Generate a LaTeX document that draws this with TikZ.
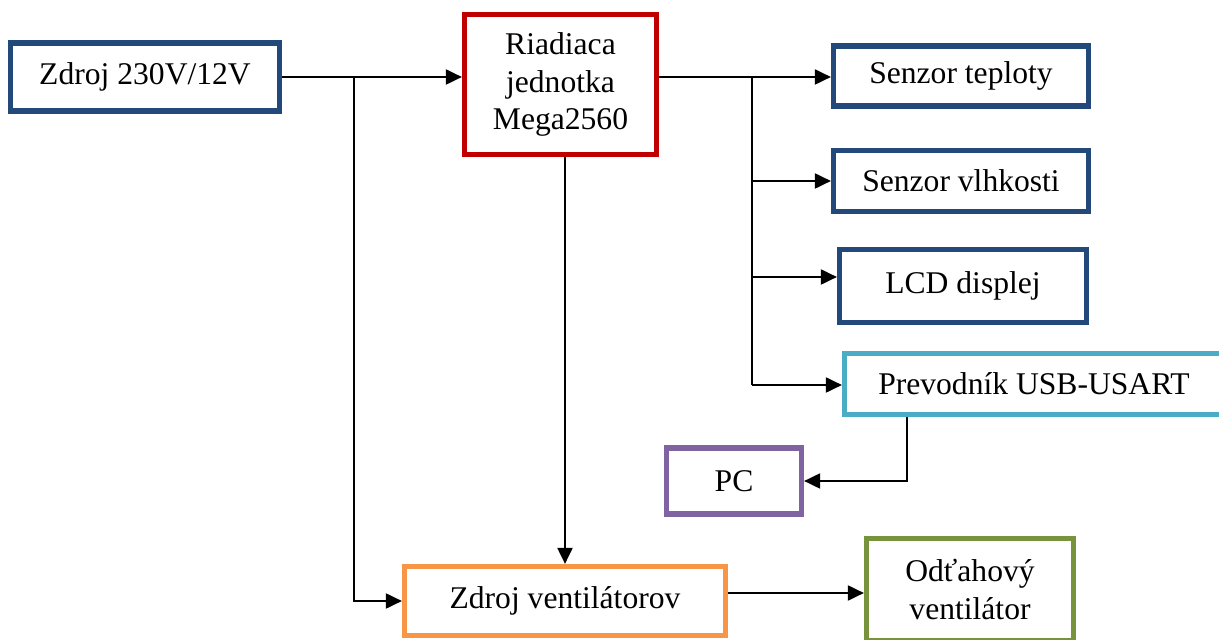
\documentclass[tikz,border=0pt]{standalone}
\usepackage{fontspec}
\setmainfont{Liberation Serif}
\usetikzlibrary{arrows.meta}
\definecolor{dblue}{RGB}{35,72,122}
\definecolor{dred}{RGB}{192,0,0}
\definecolor{lblue}{RGB}{75,172,198}
\definecolor{purp}{RGB}{128,100,162}
\definecolor{orng}{RGB}{247,150,70}
\definecolor{olive}{RGB}{119,147,60}
\tikzset{
  blk/.style={draw=#1, line width=2.6pt, fill=white, inner sep=0pt, align=center,
    font=\fontsize{15.8}{18.7}\selectfont},
  conn/.style={line width=1pt, draw=black},
  arr/.style={conn, -{Triangle[length=8pt,width=7.5pt]}}
}
\begin{document}
\begin{tikzpicture}[x=0.5pt,y=-0.5pt]
\useasboundingbox (0,0) rectangle (1219,640);
\fill[white] (0,0) rectangle (1219,640);
\clip (0,0) rectangle (1219,640);

\node[blk=dblue, minimum width=134.5pt, minimum height=34pt] (A) at (145,77) {Zdroj 230V/12V};
\node[blk=dred, minimum width=96pt, minimum height=70pt] (B) at (560.5,84.5) {Riadiaca\\jednotka\\Mega2560};
\node[blk=dblue, minimum width=127.5pt, minimum height=30pt] (C) at (961,76) {Senzor teploty};
\node[blk=dblue, minimum width=127.5pt, minimum height=30.5pt] (D) at (961,181) {Senzor vlhkosti};
\node[blk=dblue, minimum width=123.5pt, minimum height=36.5pt] (E) at (963,286) {LCD displej};
\node[blk=lblue, minimum width=189.5pt, minimum height=30.5pt] (F) at (1034,384) {Prevodník USB-USART};
\node[blk=purp, minimum width=67.5pt, minimum height=33pt] (G) at (734,481) {PC};
\node[blk=orng, minimum width=160.5pt, minimum height=34.5pt] (H) at (565,601) {Zdroj ventilátorov};
\node[blk=olive, minimum width=103.5pt, minimum height=51pt] (I) at (970,589.5) {Odťahový\\ventilátor};

\coordinate (s) at (354,77);
\coordinate (bt) at (752,77);
\coordinate (bb) at (752,385);
\coordinate (e) at (752,277);
\coordinate (fx) at (907,0);
\coordinate (hv) at (0,593);

% power to control unit, and branch to fan supply
\draw[arr] (A.east) -- (B.west |- A.east);
\draw[arr] (s) |- (H.west);

% control unit to fan supply
\draw[arr] (H.north |- B.south) -- (H.north);

% control unit bus
\draw[arr] (B.east |- bt) -- (C.west |- bt);
\draw[conn] (bt) -- (bb);
\draw[arr] (bt |- D.west) -- (D.west);
\draw[arr] (e) -- (e -| E.west);
\draw[arr] (bb) -- (bb -| F.west);

% converter to PC
\draw[arr] (F.south -| fx) |- (G.east);

% fan supply to fan
\draw[arr] (H.east |- hv) -- (I.west |- hv);
\end{tikzpicture}
\end{document}
